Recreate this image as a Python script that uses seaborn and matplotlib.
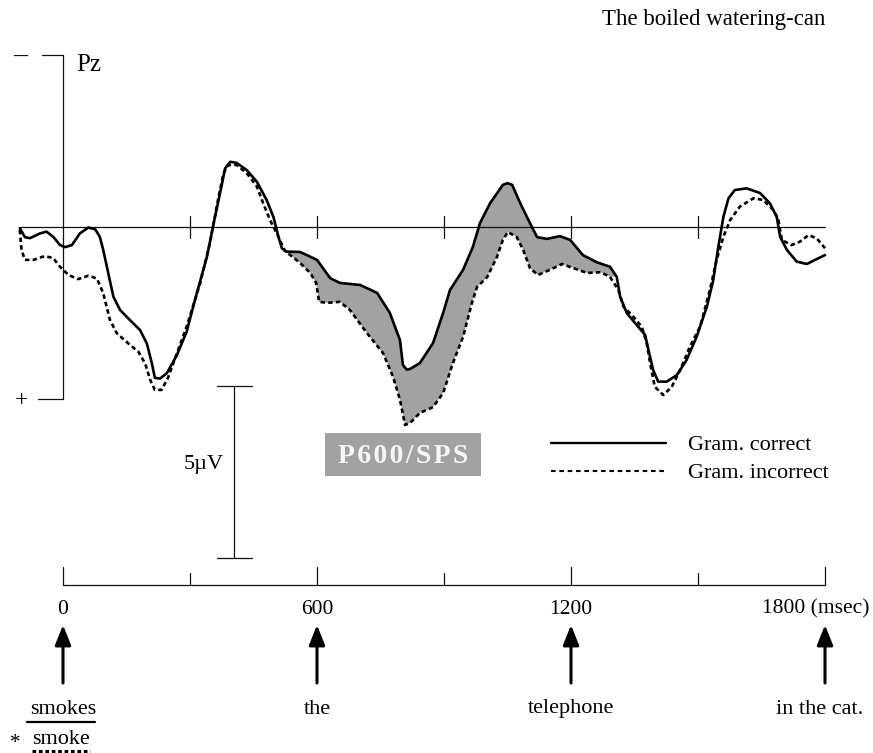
import numpy as np
import seaborn as sns
import matplotlib.pyplot as plt

# ERP at Pz (ms, microvolts; negative plotted up)
time_correct = [-102, -90, -78, -54, -39, -23, -7, 5, 21, 40, 60, 76, 87, 95, 107, 119, 135,
                158, 182, 198, 210, 217, 229, 245, 269, 292, 316, 340, 355, 371, 383, 395,
                410, 434, 458, 481, 497, 509, 517, 528, 560, 600, 631, 654, 702, 742, 772,
                796, 803, 812, 820, 843, 874, 898, 914, 945, 968, 985, 1009, 1039, 1050,
                1061, 1080, 1103, 1120, 1143, 1174, 1198, 1228, 1261, 1292, 1308, 1316,
                1332, 1355, 1375, 1383, 1394, 1406, 1426, 1450, 1473, 1497, 1521, 1536,
                1548, 1560, 1572, 1587, 1615, 1647, 1670, 1686, 1694, 1710, 1733, 1757,
                1780, 1800]
amp_correct = [0.05, 0.31, 0.34, 0.20, 0.15, 0.30, 0.54, 0.60, 0.54, 0.20, 0.03, 0.08, 0.30,
               0.68, 1.36, 2.04, 2.43, 2.72, 3.01, 3.40, 3.98, 4.40, 4.42, 4.27, 3.74, 3.06,
               1.94, 0.88, -0.04, -0.97, -1.69, -1.88, -1.85, -1.64, -1.30, -0.77, -0.28,
               0.30, 0.63, 0.73, 0.74, 0.97, 1.50, 1.64, 1.70, 1.93, 2.51, 3.30, 4.03, 4.16,
               4.14, 3.97, 3.39, 2.51, 1.85, 1.26, 0.60, -0.10, -0.68, -1.21, -1.26, -1.21,
               -0.68, -0.10, 0.31, 0.36, 0.28, 0.39, 0.83, 1.04, 1.17, 1.46, 2.04, 2.52,
               2.86, 3.15, 3.59, 4.17, 4.51, 4.51, 4.32, 3.88, 3.20, 2.33, 1.56, 0.59,
               -0.28, -0.82, -1.06, -1.11, -0.97, -0.67, -0.28, 0.30, 0.68, 1.02, 1.09,
               0.95, 0.83]

time_incorrect = [-102, -98, -90, -70, -43, -23, -7, 13, 36, 60, 80, 95, 111, 127, 158, 178,
                  194, 206, 217, 233, 249, 269, 292, 324, 347, 363, 379, 391, 410, 434, 458,
                  473, 489, 505, 524, 543, 560, 584, 598, 605, 624, 654, 678, 718, 756, 780,
                  796, 808, 820, 843, 874, 898, 921, 945, 966, 978, 1002, 1025, 1039, 1051,
                  1072, 1087, 1103, 1122, 1150, 1179, 1205, 1238, 1270, 1292, 1312, 1324,
                  1347, 1367, 1379, 1387, 1398, 1418, 1438, 1458, 1481, 1505, 1528, 1544,
                  1560, 1576, 1599, 1631, 1654, 1678, 1690, 1698, 1721, 1741, 1761, 1780,
                  1800]
amp_incorrect = [0.10, 0.68, 0.97, 0.97, 0.86, 0.92, 1.17, 1.41, 1.53, 1.43, 1.51, 1.94,
                 2.72, 3.10, 3.44, 3.64, 3.98, 4.46, 4.75, 4.75, 4.37, 3.69, 2.91, 1.65,
                 0.49, -0.58, -1.55, -1.79, -1.79, -1.55, -1.16, -0.67, -0.19, 0.20, 0.71,
                 0.89, 1.06, 1.35, 1.64, 2.19, 2.22, 2.19, 2.43, 3.10, 3.68, 4.38, 5.04,
                 5.77, 5.71, 5.42, 5.25, 4.84, 3.97, 3.21, 2.22, 1.76, 1.47, 0.89, 0.39,
                 0.16, 0.31, 0.68, 1.21, 1.41, 1.26, 1.09, 1.21, 1.35, 1.33, 1.46, 1.85,
                 2.33, 2.62, 2.91, 3.40, 3.98, 4.66, 4.90, 4.66, 4.17, 3.49, 2.91, 1.85,
                 0.97, 0.30, -0.19, -0.58, -0.82, -0.77, -0.48, -0.19, 0.39, 0.54, 0.44,
                 0.25, 0.34, 0.63]

grid_ticks = [300, 600, 900, 1200, 1500]
axis_ticks = [0, 300, 600, 900, 1200, 1500, 1800]
axis_labels = ["0", "600", "1200", "1800 (msec)"]
label_times = [0, 600, 1200, 1800]
words = ["smokes", "the", "telephone", "in the cat."]
shade_window = (520, 1310)

sns.set_theme(style="white")
plt.rcParams["font.family"] = ["Liberation Serif", "DejaVu Serif"]
plt.rcParams["text.color"] = "black"

W, H = 873, 753
fig = plt.figure(figsize=(W / 100, H / 100), dpi=100)
ax = fig.add_axes([0, 0, 1, 1])

# page layout: 0 ms at x=63px, 1800 ms at x=825px, 0 uV at y=226.5px, 34.4 px per uV
PX_MS = (825 - 63) / 1800
PX_UV = 34.4


def px(x, y):
    return (x - 63) / PX_MS, (y - 226.5) / PX_UV


ink = "#111111"
shade = "#a2a2a2"
tc = np.array(time_correct)
ac = np.array(amp_correct)
ti = np.array(time_incorrect)
ai = np.array(amp_incorrect)

# shaded P600 difference
mc = (tc >= shade_window[0]) & (tc <= shade_window[1])
mi = (ti >= shade_window[0]) & (ti <= shade_window[1])
ax.fill(np.r_[tc[mc], ti[mi][::-1]], np.r_[ac[mc], ai[mi][::-1]],
        color=shade, lw=0, zorder=1)

# baseline with ticks
ax.plot([time_correct[0], 1800], [0, 0], color=ink, lw=0.9, zorder=2)
for t in grid_ticks:
    ax.plot([t, t], [px(0, 216)[1], px(0, 238)[1]], color=ink, lw=0.9, zorder=2)

sns.lineplot(x=time_incorrect, y=amp_incorrect, ax=ax, color="black", lw=1.9,
             linestyle=(0, (1.7, 1.2)), estimator=None, sort=False, zorder=3)
sns.lineplot(x=time_correct, y=amp_correct, ax=ax, color="black", lw=1.9,
             estimator=None, sort=False, zorder=4, solid_joinstyle="round")

# Pz amplitude axis
ax.plot([0, 0], [-5, 5], color=ink, lw=0.9)
ax.plot([px(42, 0)[0], 0], [-5, -5], color=ink, lw=0.9)
ax.plot([px(38, 0)[0], 0], [5, 5], color=ink, lw=0.9)
ax.text(*px(20, 56), "\u2013", ha="center", va="center", fontsize=20)
ax.text(*px(22, 401), "+", ha="center", va="center", fontsize=17)
ax.text(*px(76, 65), "Pz", ha="left", va="center", fontsize=18)
ax.text(*px(825, 19), "The boiled watering-can", ha="right", va="center", fontsize=16.5)

# 5 uV calibration bar
bx, by = px(234, 386)
cap = 17.5 / PX_MS
ax.plot([bx, bx], [by, by + 5], color=ink, lw=0.9)
for yy in (by, by + 5):
    ax.plot([bx - cap, bx + cap], [yy, yy], color=ink, lw=0.9)
ax.text(*px(204, 465), "5\u00b5V", ha="center", va="center", fontsize=16)

# P600/SPS label box
x0, y0 = px(325, 433)
x1, y1 = px(481, 476)
ax.fill([x0, x1, x1, x0], [y0, y0, y1, y1], color=shade, lw=0)
ax.text((x0 + x1) / 2, (y0 + y1) / 2 + 0.05, "\u200a".join("P600/SPS"),
        ha="center", va="center", fontsize=20, fontweight="bold", color="#f6f6f6")

# legend
ax.plot([px(551, 0)[0], px(666, 0)[0]], [px(0, 443)[1]] * 2, color="black", lw=1.7)
ax.plot([px(551, 0)[0], px(666, 0)[0]], [px(0, 471)[1]] * 2, color="black", lw=1.5,
        linestyle=(0, (2.2, 1.8)))
ax.text(*px(688, 445), "Gram. correct", ha="left", va="center", fontsize=16)
ax.text(*px(688, 473), "Gram. incorrect", ha="left", va="center", fontsize=16)

# time axis
ya = px(0, 585)[1]
ax.plot([0, 1800], [ya, ya], color=ink, lw=0.9)
for t in axis_ticks:
    top = 567 if t % 600 == 0 else 573
    ax.plot([t, t], [px(0, top)[1], ya], color=ink, lw=0.9)
for t, lab in zip(label_times, axis_labels):
    if t == 1800:
        ax.text(px(870, 0)[0], px(0, 609)[1], lab, ha="right", va="center", fontsize=15.5)
    else:
        ax.text(t, px(0, 609)[1], lab, ha="center", va="center", fontsize=15.5)

# word onset arrows
for t, w in zip(label_times, words):
    ax.annotate("", xy=(t, px(0, 625)[1]), xytext=(t, px(0, 683)[1]),
                arrowprops=dict(arrowstyle="-|>,head_length=0.55,head_width=0.22",
                                color="black", lw=2.2, mutation_scale=22,
                                shrinkA=0, shrinkB=0))
    wx = t if t < 1800 else px(820, 0)[0]
    ax.text(wx, px(0, 709)[1], w, ha="center", va="center", fontsize=16)

ax.plot([px(27, 0)[0], px(95, 0)[0]], [px(0, 722)[1]] * 2, color="black", lw=1.6)
ax.text(*px(15, 744), "*", ha="center", va="center", fontsize=15)
ax.text(*px(61, 740), "smoke", ha="center", va="center", fontsize=16)
ax.plot([px(32, 0)[0], px(90, 0)[0]], [px(0, 751)[1]] * 2, color="black", lw=2.2,
        linestyle=(0, (1.2, 0.9)))

ax.set_xlim(-63 / PX_MS, (W - 63) / PX_MS)
ax.set_ylim((H - 226.5) / PX_UV, -226.5 / PX_UV)
ax.axis("off")

fig.savefig("out.png", dpi=100)
plt.close(fig)
